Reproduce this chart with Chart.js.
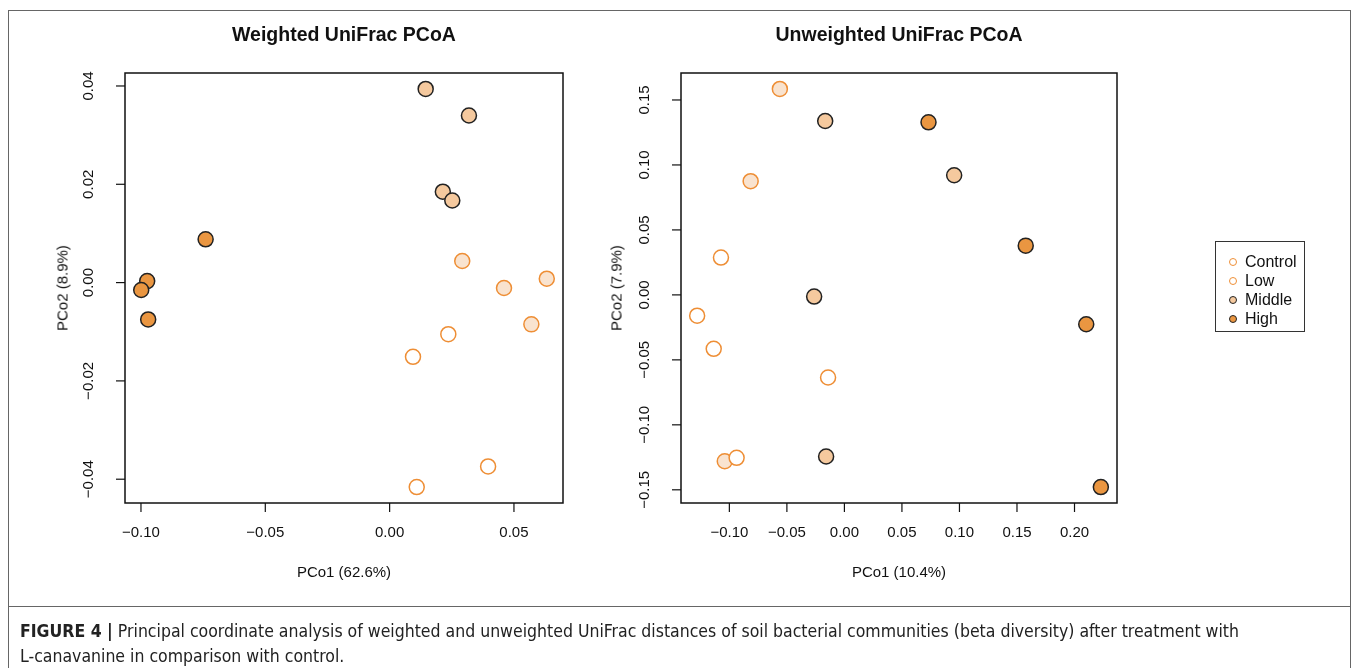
<!DOCTYPE html>
<html>
<head>
<meta charset="utf-8">
<script src="https://cdn.jsdelivr.net/npm/chart.js@4"></script>
<style>
  body { margin: 0; background: #fff; font-family: "Liberation Sans", Arial, sans-serif; color: #111; }
  #wrap { position: relative; width: 1357px; height: 668px; overflow: hidden; }
  canvas { position: absolute; left: 0; top: 0; }
  .frame { position: absolute; left: 8px; top: 10px; width: 1341px; height: 700px; border: 1px solid #666; }
  .sep { position: absolute; left: 8px; top: 606px; width: 1342px; height: 0; border-top: 1px solid #666; }
  .title { position: absolute; top: 23px; font-weight: bold; font-size: 19.5px; transform: translateX(-50%); white-space: nowrap; }
  .xlab { position: absolute; top: 563px; font-size: 15px; transform: translateX(-50%); white-space: nowrap; }
  .ylab { position: absolute; font-size: 15px; white-space: nowrap; transform: translate(-50%, -50%) rotate(-90deg); }
  .legend { position: absolute; left: 1215px; top: 241px; width: 88px; height: 89px; border: 1px solid #333; }
  .legend div { position: absolute; left: 29px; font-size: 16px; line-height: 18px; }
  .legend span { position: absolute; left: -16px; top: 5px; width: 6px; height: 6px; border-radius: 50%; border: 1.5px solid; }
  .caption { position: absolute; left: 20px; top: 619px; font-family: "Liberation Sans Narrow", "DejaVu Sans Condensed", sans-serif; font-size: 17.5px; line-height: 25px; color: #222; white-space: nowrap; }
</style>
</head>
<body>
<div id="wrap">
  <div class="frame"></div>
  <div class="sep"></div>
  <canvas id="weighted" width="1357" height="668"></canvas>
  <canvas id="unweighted" width="1357" height="668"></canvas>
  <div class="title" style="left:344px">Weighted UniFrac PCoA</div>
  <div class="title" style="left:899px">Unweighted UniFrac PCoA</div>
  <div class="xlab" style="left:344px">PCo1 (62.6%)</div>
  <div class="xlab" style="left:899px">PCo1 (10.4%)</div>
  <div class="ylab" style="left:62px; top:288px">PCo2 (8.9%)</div>
  <div class="ylab" style="left:616px; top:288px">PCo2 (7.9%)</div>
  <div class="legend" id="legend"></div>
  <div class="caption"><b>FIGURE 4 |</b> Principal coordinate analysis of weighted and unweighted UniFrac distances of soil bacterial communities (beta diversity) after treatment with<br>L-canavanine in comparison with control.</div>
</div>
<script>
// groups
const groups = ["Control", "Low", "Middle", "High"];

// weighted UniFrac
const wControlX = [0.0236, 0.0094, 0.0396, 0.0109];
const wControlY = [-0.0105, -0.0151, -0.0374, -0.0416];
const wLowX = [0.0292, 0.0460, 0.0632, 0.0570];
const wLowY = [0.0044, -0.0011, 0.0008, -0.0085];
const wMiddleX = [0.0145, 0.0319, 0.0214, 0.0252];
const wMiddleY = [0.0394, 0.0340, 0.0185, 0.0167];
const wHighX = [-0.0740, -0.0975, -0.0999, -0.0971];
const wHighY = [0.0088, 0.0003, -0.0015, -0.0075];

// unweighted UniFrac
const uControlX = [-0.1073, -0.0142, -0.1280, -0.1136, -0.0937];
const uControlY = [0.0287, -0.0636, -0.0160, -0.0415, -0.1254];
const uLowX = [-0.0561, -0.0815, -0.1040];
const uLowY = [0.1585, 0.0875, -0.1280];
const uMiddleX = [-0.0167, 0.0954, -0.0263, -0.0159];
const uMiddleY = [0.1338, 0.0921, -0.0013, -0.1244];
const uHighX = [0.0731, 0.1576, 0.2102, 0.2229];
const uHighY = [0.1328, 0.0379, -0.0226, -0.1479];

// tick labels
const wXTicks = [-0.10, -0.05, 0.00, 0.05];
const wXLabels = ["\u22120.10", "\u22120.05", "0.00", "0.05"];
const wYTicks = [-0.04, -0.02, 0.00, 0.02, 0.04];
const wYLabels = ["\u22120.04", "\u22120.02", "0.00", "0.02", "0.04"];
const uXTicks = [-0.10, -0.05, 0.00, 0.05, 0.10, 0.15, 0.20];
const uXLabels = ["\u22120.10", "\u22120.05", "0.00", "0.05", "0.10", "0.15", "0.20"];
const uYTicks = [-0.15, -0.10, -0.05, 0.00, 0.05, 0.10, 0.15];
const uYLabels = ["\u22120.15", "\u22120.10", "\u22120.05", "0.00", "0.05", "0.10", "0.15"];

const fills = ["#ffffff", "#f9e3cf", "#f5c99e", "#ea9641"];
const strokes = ["#ee8e35", "#ee8e35", "#222222", "#222222"];

function pts(xs, ys) {
  return xs.map((x, i) => ({ x: x, y: ys[i] }));
}

// R style axis range: data range plus 4% each side
function rlim(arrs) {
  const all = [].concat(...arrs);
  const lo = Math.min(...all), hi = Math.max(...all);
  const r = hi - lo;
  return [lo - 0.04 * r, hi + 0.04 * r];
}

const boxAxes = {
  id: "boxAxes",
  afterDraw(chart, args, opts) {
    const ctx = chart.ctx;
    const a = chart.chartArea;
    const x = chart.scales.x, y = chart.scales.y;
    ctx.save();
    ctx.strokeStyle = "#111";
    ctx.lineWidth = 1.5;
    ctx.strokeRect(a.left, a.top, a.right - a.left, a.bottom - a.top);
    ctx.lineWidth = 1.2;
    ctx.fillStyle = "#111";
    ctx.font = '15px "Liberation Sans", Arial, sans-serif';
    ctx.textAlign = "center";
    ctx.textBaseline = "middle";
    opts.xTicks.forEach((v, i) => {
      const px = x.getPixelForValue(v);
      ctx.beginPath();
      ctx.moveTo(px, a.bottom);
      ctx.lineTo(px, a.bottom + 9);
      ctx.stroke();
      ctx.fillText(opts.xLabels[i], px, a.bottom + 30);
    });
    opts.yTicks.forEach((v, i) => {
      const py = y.getPixelForValue(v);
      ctx.beginPath();
      ctx.moveTo(a.left, py);
      ctx.lineTo(a.left - 9, py);
      ctx.stroke();
      ctx.save();
      ctx.translate(a.left - 36, py);
      ctx.rotate(-Math.PI / 2);
      ctx.fillText(opts.yLabels[i], 0, 0);
      ctx.restore();
    });
    ctx.restore();
  }
};

function makeChart(id, xsList, ysList, pad, ticks) {
  const xr = rlim(xsList), yr = rlim(ysList);
  return new Chart(document.getElementById(id).getContext("2d"), {
    type: "scatter",
    data: {
      datasets: groups.map((g, i) => ({
        label: g,
        data: pts(xsList[i], ysList[i]),
        backgroundColor: fills[i],
        borderColor: strokes[i],
        borderWidth: 1.5,
        pointRadius: 7.5,
        pointHoverRadius: 7.5,
        clip: false
      }))
    },
    options: {
      responsive: false,
      animation: false,
      layout: { padding: pad },
      scales: {
        x: { type: "linear", display: false, min: xr[0], max: xr[1] },
        y: { type: "linear", display: false, min: yr[0], max: yr[1] }
      },
      plugins: {
        legend: { display: false },
        tooltip: { enabled: false },
        boxAxes: ticks
      }
    },
    plugins: [boxAxes]
  });
}

makeChart("weighted",
  [wControlX, wLowX, wMiddleX, wHighX],
  [wControlY, wLowY, wMiddleY, wHighY],
  { left: 125, top: 73, right: 1357 - 563, bottom: 668 - 503 },
  { xTicks: wXTicks, xLabels: wXLabels, yTicks: wYTicks, yLabels: wYLabels });

makeChart("unweighted",
  [uControlX, uLowX, uMiddleX, uHighX],
  [uControlY, uLowY, uMiddleY, uHighY],
  { left: 681, top: 73, right: 1357 - 1117, bottom: 668 - 503 },
  { xTicks: uXTicks, xLabels: uXLabels, yTicks: uYTicks, yLabels: uYLabels });

// legend
const legend = document.getElementById("legend");
groups.forEach((g, i) => {
  const d = document.createElement("div");
  d.style.top = (11 + i * 19) + "px";
  d.innerHTML = '<span style="background:' + (i === 1 ? "#fff" : fills[i]) + ';border-color:' + strokes[i] + '"></span>' + g;
  legend.appendChild(d);
});
</script>
</body>
</html>
